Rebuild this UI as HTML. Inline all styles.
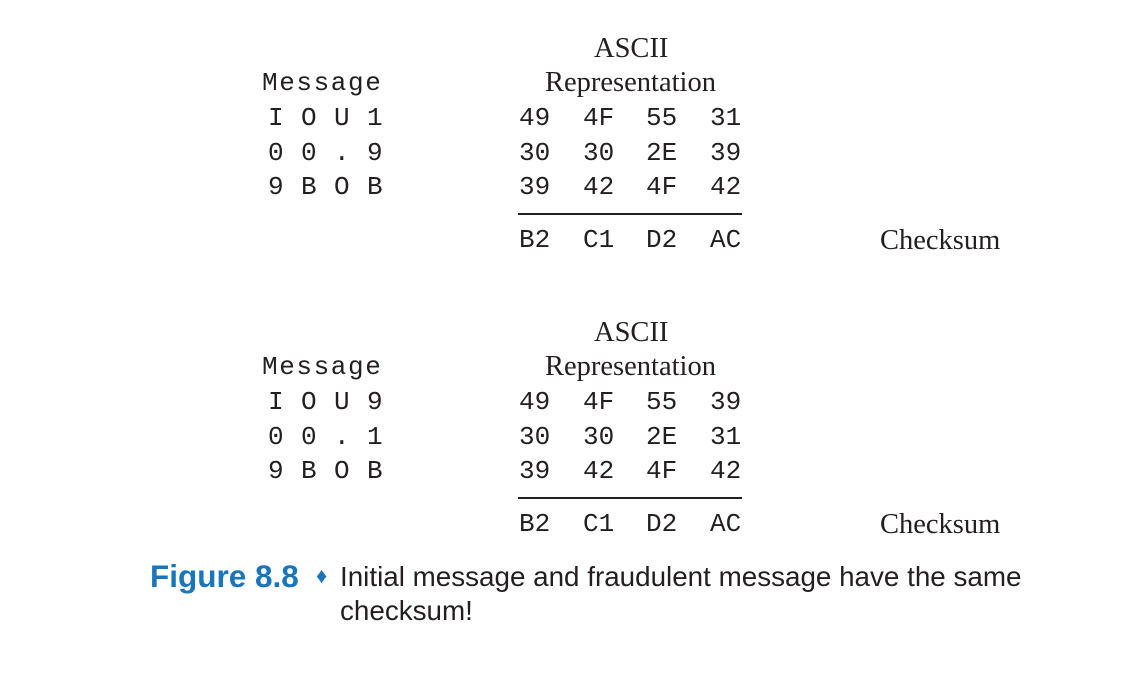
<!DOCTYPE html>
<html><head><meta charset="utf-8">
<style>
html,body{margin:0;padding:0;background:#fff;}
body{width:1142px;height:686px;position:relative;overflow:hidden;color:#231f20;}
.a{position:absolute;white-space:pre;line-height:1;}
.m{font-family:"Liberation Mono",monospace;font-size:26px;}
.mr{letter-spacing:0.9px;}
.mh{letter-spacing:1.6px;}
.s{font-family:"Liberation Serif",serif;font-size:28.5px;}
.ln{position:absolute;height:1.5px;background:#231f20;}
.cap{font-family:"Liberation Sans",sans-serif;font-size:27.8px;}
</style></head><body>
<div id="b1"></div>
<div id="b2"></div>
<div>
<div class="a cap" style="left:150px;top:561px;color:#1a75bb;font-weight:bold;font-size:31.5px">Figure 8.8</div>
<div class="a cap" style="left:316px;top:565px;color:#1a75bb;font-size:22px">♦</div>
<div class="a cap" style="left:340px;top:563px">Initial message and fraudulent message have the same</div>
<div class="a cap" style="left:340px;top:597px">checksum!</div>
</div>
<script>
const blocks = [
  {id:'b1', off:0, msg:['I O U 1','0 0 . 9','9 B O B'], hex:[['49','4F','55','31'],['30','30','2E','39'],['39','42','4F','42']], sum:['B2','C1','D2','AC']},
  {id:'b2', off:284, msg:['I O U 9','0 0 . 1','9 B O B'], hex:[['49','4F','55','39'],['30','30','2E','31'],['39','42','4F','42']], sum:['B2','C1','D2','AC']}
];
const cols = [519,583,646,710];
const rowsY = [105,140,174];
function add(parent, cls, x, y, txt, name){
  const d = document.createElement('div');
  d.className = 'a ' + cls;
  d.style.left = x + 'px'; d.style.top = y + 'px';
  d.textContent = txt;
  
  
  parent.appendChild(d);
  return d;
}
blocks.forEach(b => {
  const p = document.getElementById(b.id), o = b.off;
  add(p,'s',594,35+o,'ASCII','ascii-heading');
  add(p,'s',545,69+o,'Representation','representation-heading');
  add(p,'m mh',262,70+o,'Message','message-heading');
  b.msg.forEach((t,i)=>add(p,'m mr',268,rowsY[i]+o,t,'message-row'));
  b.hex.forEach((r,i)=>r.forEach((h,j)=>add(p,'m',cols[j],rowsY[i]+o,h,'hex-value')));
  const l = document.createElement('div');
  l.className='ln'; l.style.left='518px'; l.style.top=(213+o)+'px'; l.style.width='224px';
  
  
  p.appendChild(l);
  b.sum.forEach((h,j)=>add(p,'m',cols[j],227+o,h,'checksum-value'));
  add(p,'s',880,227+o,'Checksum','checksum-label');
});
</script>
</body></html>
